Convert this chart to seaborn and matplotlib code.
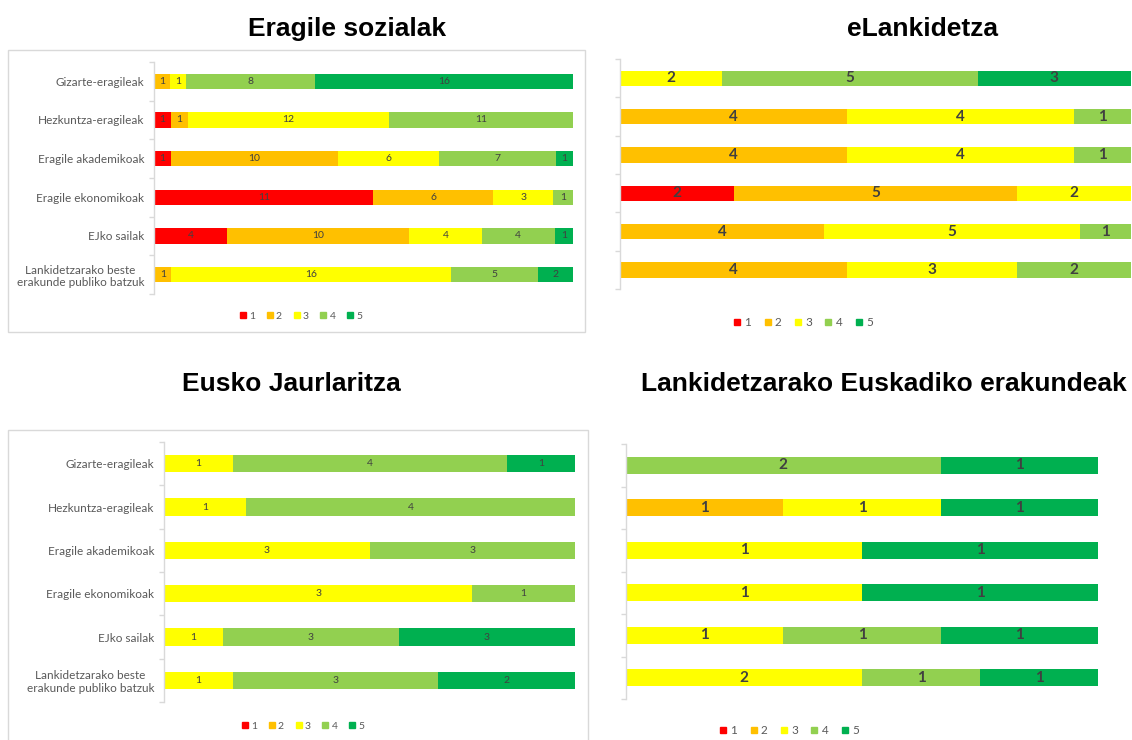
import numpy as np
import pandas as pd
import matplotlib
matplotlib.use("Agg")
import matplotlib.pyplot as plt
from matplotlib.lines import Line2D
from matplotlib.patches import Rectangle
import seaborn as sns

plt.rcParams['font.family'] = ['Liberation Sans', 'DejaVu Sans']

categories = ["Gizarte-eragileak", "Hezkuntza-eragileak", "Eragile akademikoak",
              "Eragile ekonomikoak", "EJko sailak",
              "Lankidetzarako beste\nerakunde publiko batzuk"]
series_names = ["1", "2", "3", "4", "5"]
colors = ["#FF0000", "#FFC000", "#FFFF00", "#92D050", "#00B050"]

titles = ["Eragile sozialak", "eLankidetza", "Eusko Jaurlaritza",
          "Lankidetzarako Euskadiko erakundeak"]

# rows = categories (top to bottom), columns = ratings 1..5
eragile_sozialak = [[0, 1, 1, 8, 16],
                    [1, 1, 12, 11, 0],
                    [1, 10, 6, 7, 1],
                    [11, 6, 3, 1, 0],
                    [4, 10, 4, 4, 1],
                    [0, 1, 16, 5, 2]]
elankidetza = [[0, 0, 2, 5, 3],
               [0, 4, 4, 1, 0],
               [0, 4, 4, 1, 0],
               [2, 5, 2, 0, 0],
               [0, 4, 5, 1, 0],
               [0, 4, 3, 2, 0]]
eusko_jaurlaritza = [[0, 0, 1, 4, 1],
                     [0, 0, 1, 4, 0],
                     [0, 0, 3, 3, 0],
                     [0, 0, 3, 1, 0],
                     [0, 0, 1, 3, 3],
                     [0, 0, 1, 3, 2]]
euskadiko_erakundeak = [[0, 0, 0, 2, 1],
                        [0, 1, 1, 0, 1],
                        [0, 0, 1, 0, 1],
                        [0, 0, 1, 0, 1],
                        [0, 0, 1, 1, 1],
                        [0, 0, 2, 1, 1]]

W, H = 1132, 740
fig = plt.figure(figsize=(W / 100, H / 100), dpi=100)

def ax_px(l, t, r, b):
    return fig.add_axes([l / W, 1 - b / H, (r - l) / W, (b - t) / H])

panels = [
    dict(data=eragile_sozialak, box=(154, 62, 573, 294), labels=True, frame=(8, 50, 585, 332),
         title_xy=(347, 29), leg_xy=(300, 316), vsize=7.5, vbold=False, legsize=7.5),
    dict(data=elankidetza, box=(620, 59, 1131, 289), labels=False, frame=None,
         title_xy=(922, 29), leg_xy=(802, 323), vsize=11, vbold=True, legsize=8.5),
    dict(data=eusko_jaurlaritza, box=(164, 442, 575, 702), labels=True, frame=(8, 430, 588, 745),
         title_xy=(291, 384), leg_xy=(302, 726), vsize=7.5, vbold=False, legsize=7.5),
    dict(data=euskadiko_erakundeak, box=(626, 444, 1098, 699), labels=False, frame=None,
         title_xy=(884, 384), leg_xy=(788, 731), vsize=11, vbold=True, legsize=8.5),
]

for p, title in zip(panels, titles):
    vals = np.array(p["data"], dtype=float)
    totals = vals.sum(axis=1, keepdims=True)
    share = vals / totals
    cum = np.cumsum(share, axis=1)

    if p["frame"] is not None:
        l, t, r, b = p["frame"]
        fig.add_artist(Rectangle((l / W, 1 - b / H), (r - l) / W, (b - t) / H,
                                 transform=fig.transFigure, fill=False,
                                 edgecolor="#D9D9D9", linewidth=1))

    ax = ax_px(*p["box"])
    for k in reversed(range(5)):
        df = pd.DataFrame({"cat": categories, "val": cum[:, k]})
        sns.barplot(data=df, x="val", y="cat", orient="h", color=colors[k],
                    saturation=1, width=0.4, linewidth=0, ax=ax)
    # segment labels
    for i in range(len(categories)):
        start = 0.0
        for k in range(5):
            v = vals[i, k]
            if v > 0:
                ax.text(start + share[i, k] / 2, i, f"{int(v)}", ha="center", va="center",
                        fontsize=p["vsize"], color="#404040",
                        fontweight="bold" if p["vbold"] else "normal",
                        family=["Lato", "DejaVu Sans"])
            start += share[i, k]

    ax.set_xlim(0, 1)
    ax.set_ylim(5.5, -0.5)
    ax.set_xlabel("")
    ax.set_ylabel("")
    ax.set_xticks([])
    for s in ["top", "right", "bottom"]:
        ax.spines[s].set_visible(False)
    ax.spines["left"].set_color("#D9D9D9")
    ax.spines["left"].set_linewidth(1)
    ax.set_facecolor("none")
    ax.set_yticks(np.arange(-0.5, 6.0, 1.0), minor=True)
    ax.tick_params(axis="y", which="minor", length=3.5, color="#D9D9D9", width=1)
    ax.tick_params(axis="y", which="major", length=0, pad=7)
    if p["labels"]:
        for lab in ax.get_yticklabels():
            lab.set_fontsize(8.5)
            lab.set_color("#595959")
            lab.set_family(["Lato", "DejaVu Sans"])
            lab.set_multialignment("center")
    else:
        ax.set_yticklabels([])

    fig.text(p["title_xy"][0] / W, 1 - p["title_xy"][1] / H, title, ha="center", va="center",
             fontsize=19, fontweight="bold", color="black")

    handles = [Line2D([], [], marker="s", linestyle="", markersize=5, color=c) for c in colors]
    leg = fig.legend(handles, series_names, loc="center",
                     bbox_to_anchor=(p["leg_xy"][0] / W, 1 - p["leg_xy"][1] / H),
                     ncol=5, frameon=False, fontsize=p["legsize"], handletextpad=0.1,
                     columnspacing=0.9, handlelength=1.0, borderaxespad=0)
    for t in leg.get_texts():
        t.set_color("#595959")
        t.set_family(["Lato", "DejaVu Sans"])

fig.savefig("out.png", dpi=100)
